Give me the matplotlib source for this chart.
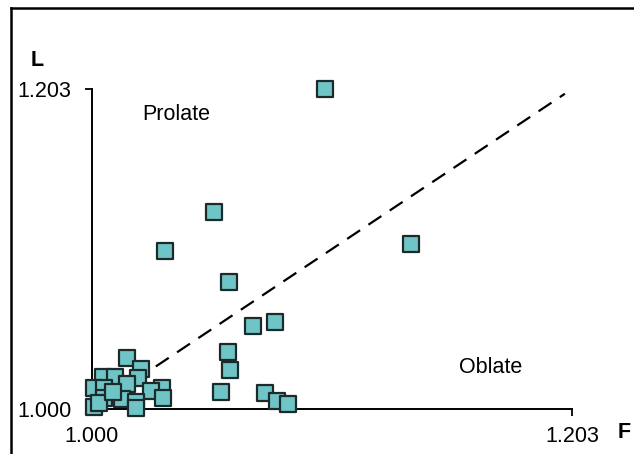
import matplotlib
matplotlib.use('Agg')
import matplotlib.pyplot as plt
from matplotlib.lines import Line2D

plt.rcParams['font.family'] = ['Liberation Sans', 'DejaVu Sans']

# Flinn diagram data: foliation F vs lineation L
F = [1.0985, 1.0516, 1.0309, 1.1349, 1.0579, 1.0681, 1.0774, 1.0575, 1.0584,
     1.0546, 1.0732, 1.0782, 1.0829,
     1.0147, 1.0206, 1.0047, 1.0096, 1.0196, 1.0149, 1.0008, 1.0051, 1.0295,
     1.0248, 1.0302, 1.0051, 1.0126, 1.0187, 1.0008, 1.0030, 1.0185, 1.0089]
L = [1.2030, 1.1250, 1.1003, 1.1047, 1.0806, 1.0527, 1.0552, 1.0362, 1.0247,
     1.0108, 1.0102, 1.0051, 1.0032,
     1.0326, 1.0254, 1.0205, 1.0205, 1.0195, 1.0157, 1.0135, 1.0135, 1.0135,
     1.0114, 1.0068, 1.0068, 1.0062, 1.0043, 1.0015, 1.0038, 1.0006, 1.0108]

axis_min, axis_max = 1.000, 1.203
diag = [1.0, 1.2]

fig = plt.figure(figsize=(6.34, 4.54), dpi=100)
ax = fig.add_axes([92 / 634, 1 - 409 / 454, 480 / 634, 320 / 454])

ax.plot(diag, diag, color='black', linewidth=1.6, dashes=(7, 4.5), zorder=1)
ax.scatter(F, L, marker='s', s=120, facecolor='#6fc4c6', edgecolor='#1c2a2b',
           linewidth=1.6, zorder=3, clip_on=False)

ax.set_xlim(axis_min, axis_max)
ax.set_ylim(axis_min, axis_max)
ax.set_xticks([axis_min, axis_max])
ax.set_yticks([axis_min, axis_max])
ax.set_xticklabels(['1.000', '1.203'])
ax.set_yticklabels(['1.000', '1.203'])
ax.tick_params(labelsize=15.5, length=5, width=1.3, pad=7, colors='black')
ax.tick_params(axis='y', pad=10)
for side in ['top', 'right']:
    ax.spines[side].set_visible(False)
for side in ['left', 'bottom']:
    ax.spines[side].set_linewidth(1.4)

ax.text(0.175, 0.92, 'Prolate', transform=ax.transAxes, fontsize=15.5,
        ha='center', va='center')
ax.text(0.83, 0.13, 'Oblate', transform=ax.transAxes, fontsize=15.5,
        ha='center', va='center')

fig.text(37 / 634, 1 - 60 / 454, 'L', fontsize=15.5, fontweight='bold',
         ha='center', va='center')
fig.text(624 / 634, 1 - 433 / 454, 'F', fontsize=15.5, fontweight='bold',
         ha='center', va='center')

# outer frame (top and left edges only visible)
fig.add_artist(Line2D([11 / 634, 1.0], [1 - 8 / 454, 1 - 8 / 454],
                      color='black', linewidth=1.8))
fig.add_artist(Line2D([11 / 634, 11 / 634], [0.0, 1 - 8 / 454],
                      color='black', linewidth=1.8))

fig.savefig('out.png', dpi=100)
